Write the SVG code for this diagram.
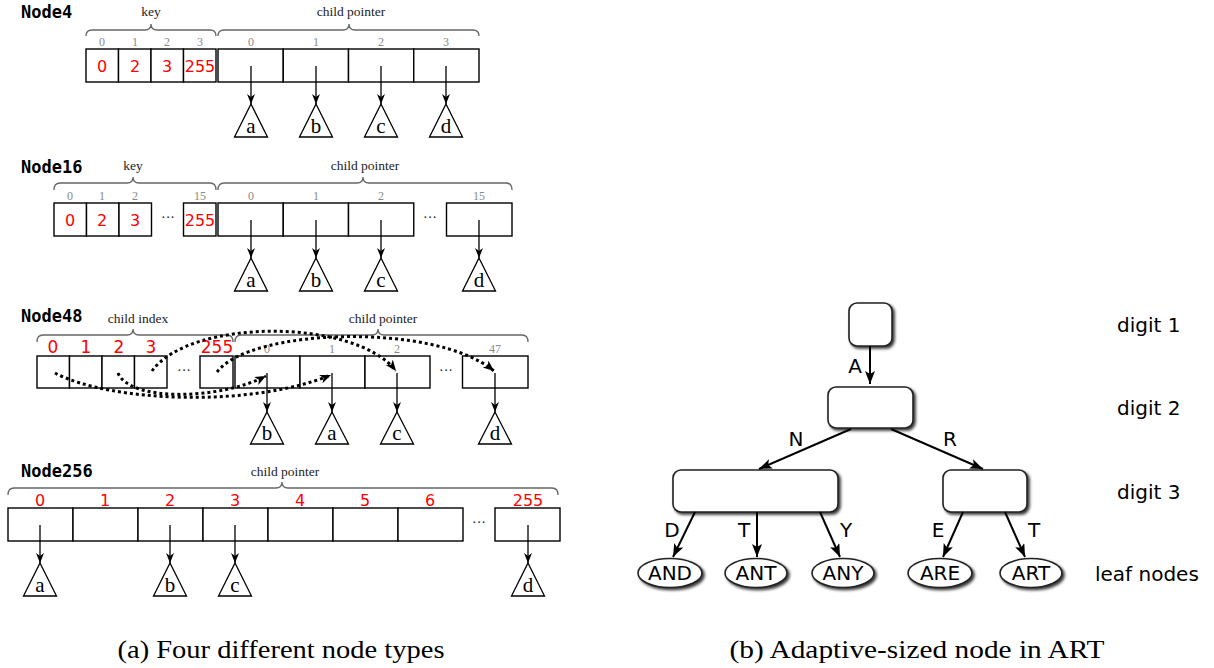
<svg xmlns="http://www.w3.org/2000/svg" width="1214" height="668" viewBox="0 0 1214 668">
<style>
.title{font-family:"DejaVu Sans Mono","Liberation Mono",monospace;font-weight:bold;font-size:17px;fill:#000}
.lbl{font-family:"Liberation Serif","DejaVu Serif",serif;font-size:13.5px;fill:#222;text-anchor:middle}
.idx{font-family:"Liberation Serif","DejaVu Serif",serif;font-size:12px;fill:#888;text-anchor:middle}
.red{font-family:"DejaVu Sans","Liberation Sans",sans-serif;font-size:16px;fill:#ff0000;text-anchor:middle}
.dots{font-family:"Liberation Serif",serif;font-size:14px;fill:#222;text-anchor:middle}
.cell{fill:#fff;stroke:#000;stroke-width:1.4}
.brace{fill:none;stroke:#666;stroke-width:1.3}
.tri{fill:#fff;stroke:#000;stroke-width:1.3}
.tl{font-family:"Liberation Serif","DejaVu Serif",serif;font-size:21px;fill:#000;text-anchor:middle}
.ptr{stroke:#000;stroke-width:1.3;fill:none;marker-end:url(#ah)}
.dot{stroke:#000;stroke-width:3;fill:none;stroke-dasharray:3 3;marker-end:url(#ahd)}
.tn{fill:#fff;stroke:#222;stroke-width:1.6;filter:url(#sh)}
.edge{stroke:#000;stroke-width:2;fill:none;marker-end:url(#ahb)}
.sans{font-family:"DejaVu Sans","Liberation Sans",sans-serif;font-size:20px;fill:#000}
.cap{font-family:"Liberation Serif","DejaVu Serif",serif;font-size:26px;fill:#000;text-anchor:middle}
</style>
<defs>
<marker id="ah" markerUnits="userSpaceOnUse" markerWidth="10" markerHeight="10" refX="10" refY="4" orient="auto">
<path d="M0,0 L10,4 L0,8 L3,4 z" fill="#000"/>
</marker>
<marker id="ahd" markerUnits="userSpaceOnUse" markerWidth="12" markerHeight="10" refX="11" refY="4.5" orient="auto">
<path d="M0,0 L11,4.5 L0,9 L3,4.5 z" fill="#000"/>
</marker>
<marker id="ahb" markerUnits="userSpaceOnUse" markerWidth="14" markerHeight="12" refX="13" refY="5" orient="auto">
<path d="M0,0 L13,5 L0,10 L3,5 z" fill="#000"/>
</marker>
<filter id="sh" x="-20%" y="-20%" width="150%" height="160%">
<feGaussianBlur in="SourceAlpha" stdDeviation="1.8"/>
<feOffset dx="1.5" dy="1.5" result="b"/>
<feComponentTransfer><feFuncA type="linear" slope="0.8"/></feComponentTransfer>
<feMerge><feMergeNode/><feMergeNode in="SourceGraphic"/></feMerge>
</filter>
</defs>

<!-- Node4 -->
<g id="node4">
<text class="title" x="21" y="18">Node4</text>
<text class="lbl" x="151" y="16">key</text>
<path class="brace" d="M86,36 Q86,30 92,30 L145,30 Q151,30 151,24 Q151,30 157,30 L210,30 Q216,30 216,36"/>
<text class="lbl" x="351" y="16">child pointer</text>
<path class="brace" d="M218,36 Q218,30 224,30 L343,30 Q349,30 349,24 Q349,30 355,30 L473,30 Q479,30 479,36"/>
<text class="idx" x="102" y="46">0</text><text class="idx" x="135" y="46">1</text><text class="idx" x="167" y="46">2</text><text class="idx" x="200" y="46">3</text>
<text class="idx" x="251" y="46">0</text><text class="idx" x="316" y="46">1</text><text class="idx" x="381" y="46">2</text><text class="idx" x="446" y="46">3</text>
<rect class="cell" x="86" y="49" width="32.5" height="33"/><rect class="cell" x="118.5" y="49" width="32.5" height="33"/><rect class="cell" x="151" y="49" width="32.5" height="33"/><rect class="cell" x="183.5" y="49" width="32.5" height="33"/>
<rect class="cell" x="218" y="49" width="65.25" height="33"/><rect class="cell" x="283.25" y="49" width="65.25" height="33"/><rect class="cell" x="348.5" y="49" width="65.25" height="33"/><rect class="cell" x="413.75" y="49" width="65.25" height="33"/>
<text class="red" x="102" y="72">0</text><text class="red" x="135" y="72">2</text><text class="red" x="167" y="72">3</text><text class="red" x="200" y="72">255</text>
<line class="ptr" x1="251" y1="66" x2="251" y2="104"/><line class="ptr" x1="316" y1="66" x2="316" y2="104"/><line class="ptr" x1="381" y1="66" x2="381" y2="104"/><line class="ptr" x1="446" y1="66" x2="446" y2="104"/>
<path class="tri" d="M251,104 L267.5,137 L234.5,137 z"/><text class="tl" x="251" y="133">a</text>
<path class="tri" d="M316,104 L332.5,137 L299.5,137 z"/><text class="tl" x="316" y="133">b</text>
<path class="tri" d="M381,104 L397.5,137 L364.5,137 z"/><text class="tl" x="381" y="133">c</text>
<path class="tri" d="M446,104 L462.5,137 L429.5,137 z"/><text class="tl" x="446" y="133">d</text>
</g>

<!-- Node16 -->
<g id="node16">
<text class="title" x="21" y="173">Node16</text>
<text class="lbl" x="133" y="170">key</text>
<path class="brace" d="M54,190 Q54,183 60,183 L127,183 Q133,183 133,177 Q133,183 139,183 L210,183 Q216,183 216,190"/>
<text class="lbl" x="365" y="170">child pointer</text>
<path class="brace" d="M218,190 Q218,183 224,183 L357,183 Q363,183 363,177 Q363,183 369,183 L506,183 Q512,183 512,190"/>
<text class="idx" x="70" y="200">0</text><text class="idx" x="102" y="200">1</text><text class="idx" x="135" y="200">2</text><text class="idx" x="200" y="200">15</text>
<text class="idx" x="251" y="200">0</text><text class="idx" x="316" y="200">1</text><text class="idx" x="381" y="200">2</text><text class="idx" x="479" y="200">15</text>
<rect class="cell" x="54" y="203" width="32.5" height="33"/><rect class="cell" x="86.5" y="203" width="32.5" height="33"/><rect class="cell" x="119" y="203" width="32.5" height="33"/><rect class="cell" x="183.5" y="203" width="32.5" height="33"/>
<text class="dots" x="168" y="222">···</text>
<rect class="cell" x="218" y="203" width="65.25" height="33"/><rect class="cell" x="283.25" y="203" width="65.25" height="33"/><rect class="cell" x="348.5" y="203" width="65.25" height="33"/><rect class="cell" x="446.5" y="203" width="65.5" height="33"/>
<text class="dots" x="430" y="222">···</text>
<text class="red" x="70" y="226">0</text><text class="red" x="102" y="226">2</text><text class="red" x="135" y="226">3</text><text class="red" x="200" y="226">255</text>
<line class="ptr" x1="251" y1="220" x2="251" y2="258"/><line class="ptr" x1="316" y1="220" x2="316" y2="258"/><line class="ptr" x1="381" y1="220" x2="381" y2="258"/><line class="ptr" x1="479" y1="220" x2="479" y2="258"/>
<path class="tri" d="M251,258 L267.5,291 L234.5,291 z"/><text class="tl" x="251" y="287">a</text>
<path class="tri" d="M316,258 L332.5,291 L299.5,291 z"/><text class="tl" x="316" y="287">b</text>
<path class="tri" d="M381,258 L397.5,291 L364.5,291 z"/><text class="tl" x="381" y="287">c</text>
<path class="tri" d="M479,258 L495.5,291 L462.5,291 z"/><text class="tl" x="479" y="287">d</text>
</g>

<!-- Node48 -->
<g id="node48">
<text class="title" x="21" y="322">Node48</text>
<text class="lbl" x="138" y="323">child index</text>
<path class="brace" d="M37,342 Q37,335 43,335 L127,335 Q133,335 133,329 Q133,335 139,335 L227,335 Q233,335 233,342"/>
<text class="lbl" x="383" y="323">child pointer</text>
<path class="brace" d="M235,342 Q235,335 241,335 L372,335 Q378,335 378,329 Q378,335 384,335 L522,335 Q528,335 528,342"/>
<text class="red" x="53" y="353" style="font-size:17px">0</text><text class="red" x="86" y="353" style="font-size:17px">1</text><text class="red" x="119" y="353" style="font-size:17px">2</text><text class="red" x="151" y="353" style="font-size:17px">3</text><text class="red" x="217" y="353" style="font-size:17px">255</text>
<text class="idx" x="267" y="353">0</text><text class="idx" x="332" y="353">1</text><text class="idx" x="397" y="353">2</text><text class="idx" x="495" y="353">47</text>
<rect class="cell" x="37" y="356" width="32.5" height="32"/><rect class="cell" x="69.5" y="356" width="32.5" height="32"/><rect class="cell" x="102" y="356" width="32.5" height="32"/><rect class="cell" x="134.5" y="356" width="32.5" height="32"/><rect class="cell" x="200" y="356" width="33" height="32"/>
<text class="dots" x="184" y="375">···</text>
<rect class="cell" x="235" y="356" width="65" height="32"/><rect class="cell" x="300" y="356" width="65" height="32"/><rect class="cell" x="365" y="356" width="65" height="32"/><rect class="cell" x="462.5" y="356" width="65.5" height="32"/>
<text class="dots" x="446" y="375">···</text>
<line class="ptr" x1="267" y1="373" x2="267" y2="412"/><line class="ptr" x1="332" y1="373" x2="332" y2="412"/><line class="ptr" x1="397" y1="373" x2="397" y2="412"/><line class="ptr" x1="495" y1="373" x2="495" y2="412"/>
<path class="tri" d="M267,412 L283.5,444 L250.5,444 z"/><text class="tl" x="267" y="440">b</text>
<path class="tri" d="M332,412 L348.5,444 L315.5,444 z"/><text class="tl" x="332" y="440">a</text>
<path class="tri" d="M397,412 L413.5,444 L380.5,444 z"/><text class="tl" x="397" y="440">c</text>
<path class="tri" d="M495,412 L511.5,444 L478.5,444 z"/><text class="tl" x="495" y="440">d</text>
</g>

<!-- Node256 -->
<g id="node256">
<text class="title" x="21" y="477">Node256</text>
<text class="lbl" x="285" y="476">child pointer</text>
<path class="brace" d="M8,495 Q8,488 14,488 L276,488 Q282,488 282,482 Q282,488 288,488 L552,488 Q558,488 558,495"/>
<text class="red" x="40" y="506">0</text><text class="red" x="105" y="506">1</text><text class="red" x="170" y="506">2</text><text class="red" x="235" y="506">3</text><text class="red" x="300" y="506">4</text><text class="red" x="365" y="506">5</text><text class="red" x="430" y="506">6</text><text class="red" x="528" y="506">255</text>
<rect class="cell" x="8" y="508" width="65" height="33"/><rect class="cell" x="73" y="508" width="65" height="33"/><rect class="cell" x="138" y="508" width="65" height="33"/><rect class="cell" x="203" y="508" width="65" height="33"/><rect class="cell" x="268" y="508" width="65" height="33"/><rect class="cell" x="333" y="508" width="65" height="33"/><rect class="cell" x="398" y="508" width="65" height="33"/><rect class="cell" x="495" y="508" width="65" height="33"/>
<text class="dots" x="479" y="527">···</text>
<line class="ptr" x1="40" y1="525" x2="40" y2="563"/><line class="ptr" x1="170" y1="525" x2="170" y2="563"/><line class="ptr" x1="235" y1="525" x2="235" y2="563"/><line class="ptr" x1="528" y1="525" x2="528" y2="563"/>
<path class="tri" d="M40,563 L56.5,596 L23.5,596 z"/><text class="tl" x="40" y="592">a</text>
<path class="tri" d="M170,563 L186.5,596 L153.5,596 z"/><text class="tl" x="170" y="592">b</text>
<path class="tri" d="M235,563 L251.5,596 L218.5,596 z"/><text class="tl" x="235" y="592">c</text>
<path class="tri" d="M528,563 L544.5,596 L511.5,596 z"/><text class="tl" x="528" y="592">d</text>
</g>

<!-- Node48 dotted index connectors -->
<g id="connectors-left">
<path class="dot" d="M55,373 C110,402 250,408 331,375"/>
<path class="dot" d="M118,373 C130,402 220,400 266,376"/>
<path class="dot" d="M152,371 C190,318 355,318 396,371"/>
<path class="dot" d="M217,372 C250,328 435,322 494,371"/>
</g>

<!-- ART tree -->
<g id="art-n1"><rect class="tn" x="849" y="303" width="43" height="43" rx="8"/></g>
<g id="art-n2"><rect class="tn" x="828" y="387" width="85" height="41" rx="8"/></g>
<g id="art-n3a"><rect class="tn" x="673" y="470" width="165" height="42" rx="8"/></g>
<g id="art-n3b"><rect class="tn" x="943" y="470" width="84" height="42" rx="8"/></g>
<g id="leaf-and"><ellipse class="tn" cx="670" cy="573" rx="32" ry="14.5"/><text class="sans" x="670" y="580" text-anchor="middle">AND</text></g>
<g id="leaf-ant"><ellipse class="tn" cx="756" cy="573" rx="31" ry="14.5"/><text class="sans" x="756" y="580" text-anchor="middle">ANT</text></g>
<g id="leaf-any"><ellipse class="tn" cx="843" cy="573" rx="31" ry="14.5"/><text class="sans" x="843" y="580" text-anchor="middle">ANY</text></g>
<g id="leaf-are"><ellipse class="tn" cx="940" cy="573" rx="32" ry="14.5"/><text class="sans" x="940" y="580" text-anchor="middle">ARE</text></g>
<g id="leaf-art"><ellipse class="tn" cx="1031" cy="573" rx="31" ry="14.5"/><text class="sans" x="1031" y="580" text-anchor="middle">ART</text></g>

<g id="connectors-right">
<line class="edge" x1="870" y1="346" x2="870" y2="384"/>
<line class="edge" x1="851" y1="429" x2="759" y2="469"/>
<line class="edge" x1="891" y1="429" x2="983" y2="469"/>
<line class="edge" x1="695" y1="512" x2="673" y2="557"/>
<line class="edge" x1="757" y1="512" x2="757" y2="557"/>
<line class="edge" x1="820" y1="512" x2="840" y2="557"/>
<line class="edge" x1="963" y1="512" x2="943" y2="557"/>
<line class="edge" x1="1005" y1="512" x2="1025" y2="557"/>
<text class="sans" x="855" y="373" text-anchor="middle">A</text>
<text class="sans" x="796" y="446" text-anchor="middle">N</text>
<text class="sans" x="950" y="446" text-anchor="middle">R</text>
<text class="sans" x="672" y="537" text-anchor="middle">D</text>
<text class="sans" x="744" y="537" text-anchor="middle">T</text>
<text class="sans" x="846" y="537" text-anchor="middle">Y</text>
<text class="sans" x="938" y="537" text-anchor="middle">E</text>
<text class="sans" x="1034" y="537" text-anchor="middle">T</text>
</g>

<g id="levels">
<text class="sans" x="1117" y="332">digit 1</text>
<text class="sans" x="1117" y="415">digit 2</text>
<text class="sans" x="1117" y="499">digit 3</text>
<text class="sans" x="1095" y="581">leaf nodes</text>
</g>

<text class="cap" x="281" y="658" textLength="327" lengthAdjust="spacingAndGlyphs">(a) Four different node types</text>
<text class="cap" x="917" y="658" textLength="375" lengthAdjust="spacingAndGlyphs">(b) Adaptive-sized node in ART</text>
</svg>
